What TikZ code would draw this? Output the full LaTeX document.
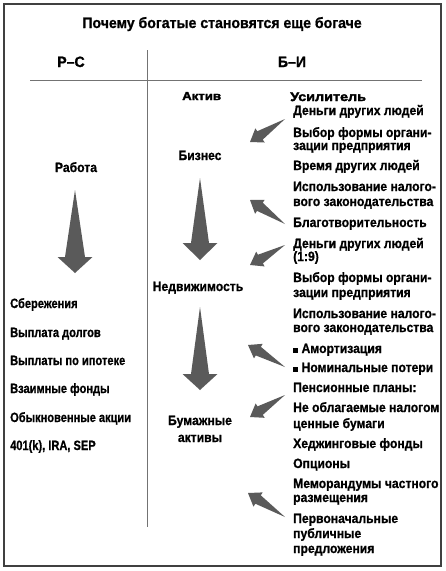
\documentclass[tikz,border=0pt]{standalone}
\usepackage{fontspec}
\setmainfont{Liberation Sans}[UprightFont={* Bold},BoldFont={* Bold},FakeStretch=0.9,FakeBold=0.8]
\newfontfamily\leftfont{Liberation Sans}[UprightFont={* Bold},FakeStretch=0.82,FakeBold=0.8]
\newfontfamily\titlefont{Liberation Sans}[UprightFont={* Bold},FakeStretch=0.94,FakeBold=1]
\newfontfamily\headfont{Liberation Sans}[UprightFont={* Bold},FakeStretch=1.15,FakeBold=2.5]
\usetikzlibrary{calc}
\definecolor{arrowgray}{HTML}{5A5A5A}
\newcommand\fatarrow[5]{%
  \coordinate (fa-b) at ($(#2)!#5!(#1)$);
  \fill[arrowgray] (#1) -- ($(fa-b)!#3!90:(#2)$) -- ($(fa-b)!#4!90:(#2)$) -- (#2)
    -- ($(fa-b)!#4!-90:(#2)$) -- ($(fa-b)!#3!-90:(#2)$) -- cycle;}
\begin{document}
\begin{tikzpicture}[x=1pt,y=-1pt,
  txt/.style={inner sep=0pt, anchor=base west, font=\fontsize{13.5}{14}\selectfont},
  ltxt/.style={inner sep=0pt, anchor=base west, font=\fontsize{13.5}{14}\leftfont},
  ctxt/.style={inner sep=0pt, anchor=base, font=\fontsize{13.5}{14}\selectfont},
  headtxt/.style={inner sep=0pt, anchor=base west, font=\fontsize{12.5}{13}\headfont},
  rule/.style={draw=black!55, line width=0.6pt}]
\useasboundingbox (0,0) rectangle (446,571);
\draw[line width=2.2pt, black!75] (4,4) rectangle (441,566);
% title and headers
\node[inner sep=0pt, anchor=base, font=\fontsize{15}{16}\titlefont] (title) at (222,28) {Почему богатые становятся еще богаче};
\node[ctxt, font=\fontsize{15}{15}\titlefont] (rc) at (71,67) {Р–С};
\node[ctxt, font=\fontsize{15}{15}\titlefont] (bi) at (292,67) {Б–И};
\coordinate (vtop) at (147,50);
\coordinate (vbot) at (147,527);
\coordinate (hl) at (30,80);
\coordinate (hr) at (422,80);
\draw[rule] (vtop) -- (vbot);
\draw[rule] (hl) -- (hr);
\node[headtxt, font=\fontsize{11.5}{12}\headfont] (aktiv) at (182,100) {Актив};
\node[headtxt] (usil) at (290,101) {Усилитель};
% left column
\node[ctxt] (rabota) at (76,172) {Работа};
\coordinate (la1) at (75,190);
\coordinate (la2) at (75,273);
\fatarrow{la1}{la2}{10pt}{17.5pt}{16pt}
\node[ltxt] (l1) at (10,308) {Сбережения};
\node[ltxt] (l2) at (10,337) {Выплата долгов};
\node[ltxt] (l3) at (10,365) {Выплаты по ипотеке};
\node[ltxt] (l4) at (10,393) {Взаимные фонды};
\node[ltxt] (l5) at (10,422) {Обыкновенные акции};
\node[ltxt] (l6) at (10,450) {401(k), IRA, SEP};
% middle column
\node[ctxt] (biz) at (200,160) {Бизнес};
\coordinate (ma1) at (200,178);
\coordinate (ma2) at (200,260);
\fatarrow{ma1}{ma2}{9pt}{17.5pt}{17pt}
\node[ctxt] (ned) at (198,291) {Недвижимость};
\coordinate (mb1) at (200,307);
\coordinate (mb2) at (200,390);
\fatarrow{mb1}{mb2}{9pt}{17.5pt}{16pt}
\node[ctxt] (bum) at (200,425) {Бумажные};
\node[ctxt] (bum2) at (200,442) {активы};
% right column
\node[txt] (r1) at (293,115) {Деньги других людей};
\node[txt] (r2) at (293,137) {Выбор формы органи-};
\node[txt] (r2b) at (293,150) {зации предприятия};
\node[txt] (r3) at (293,170) {Время других людей};
\node[txt] (r4) at (293,191) {Использование налого-};
\node[txt] (r4b) at (293,206) {вого законодательства};
\node[txt] (r5) at (293,227) {Благотворительность};
\node[txt] (r6) at (293,248) {Деньги других людей};
\node[txt] (r6b) at (293,261) {(1:9)};
\node[txt] (r7) at (293,282) {Выбор формы органи-};
\node[txt] (r7b) at (293,297) {зации предприятия};
\node[txt] (r8) at (293,318) {Использование налого-};
\node[txt] (r8b) at (293,332) {вого законодательства};
\node[txt] (r9) at (293,353) {\rule[0.5pt]{5pt}{5pt} Амортизация};
\node[txt] (r10) at (293,372) {\rule[0.5pt]{5pt}{5pt} Номинальные потери};
\node[txt] (r11) at (293,392) {Пенсионные планы:};
\node[txt] (r12) at (293,412) {Не облагаемые налогом};
\node[txt] (r12b) at (293,428) {ценные бумаги};
\node[txt] (r13) at (293,448) {Хеджинговые фонды};
\node[txt] (r14) at (293,468) {Опционы};
\node[txt] (r15) at (293,488) {Меморандумы частного};
\node[txt] (r15b) at (293,502) {размещения};
\node[txt] (r16) at (293,523) {Первоначальные};
\node[txt] (r16b) at (293,538) {публичные};
\node[txt] (r16c) at (293,553) {предложения};
% diagonal arrows
\coordinate (d1a) at (285,119); \coordinate (d1b) at (250,142);
\coordinate (d2a) at (285,224); \coordinate (d2b) at (250,200);
\coordinate (d3a) at (285,245); \coordinate (d3b) at (250,265);
\coordinate (d4a) at (285,367); \coordinate (d4b) at (248,345);
\coordinate (d5a) at (285,395); \coordinate (d5b) at (250,417);
\coordinate (d6a) at (285,517); \coordinate (d6b) at (248,493);
\fatarrow{d1a}{d1b}{5pt}{8.5pt}{12pt}
\fatarrow{d2a}{d2b}{5pt}{8.5pt}{12pt}
\fatarrow{d3a}{d3b}{5pt}{8.5pt}{12pt}
\fatarrow{d4a}{d4b}{5pt}{8.5pt}{12pt}
\fatarrow{d5a}{d5b}{5pt}{8.5pt}{12pt}
\fatarrow{d6a}{d6b}{5pt}{8.5pt}{12pt}
\end{tikzpicture}
\end{document}
